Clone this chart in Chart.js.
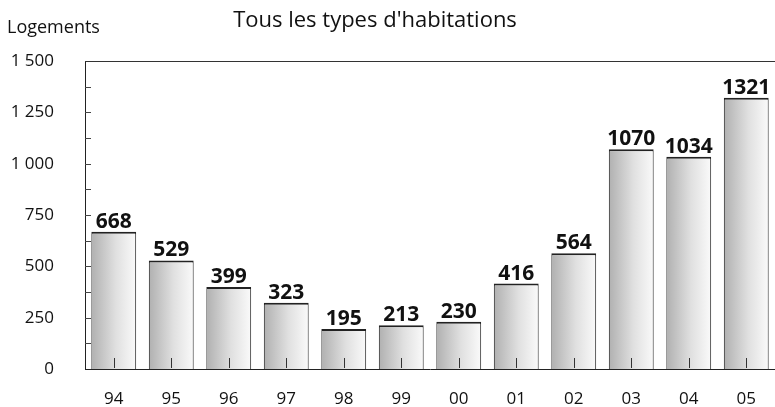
<!DOCTYPE html>
<html>
<head>
<meta charset="utf-8">
<script src="https://cdn.jsdelivr.net/npm/chart.js@4"></script>
<style>
  html, body { margin: 0; padding: 0; background: #fff; }
  #wrap { width: 775px; height: 407px; position: relative; }
</style>
</head>
<body>
<div id="wrap"><canvas id="chart"></canvas></div>
<script>
const years = ['94', '95', '96', '97', '98', '99', '00', '01', '02', '03', '04', '05'];
const logements = [668, 529, 399, 323, 195, 213, 230, 416, 564, 1070, 1034, 1321];
const yTicks = [0, 250, 500, 750, 1000, 1250, 1500];

const FONT = '"Open Sans", Lato, sans-serif';
const BAR_PCT = 0.78;

const fmt = (v) => (v >= 1000 ? Math.floor(v / 1000) + ' ' + String(v % 1000).padStart(3, '0') : String(v));

const barFill = (ctx) => {
  const chart = ctx.chart;
  const xs = chart.scales.x;
  if (!xs || !chart.chartArea) return '#ccc';
  const cx = xs.getPixelForValue(ctx.dataIndex);
  const w = (xs.width / years.length) * BAR_PCT;
  const g = chart.ctx.createLinearGradient(cx - w / 2, 0, cx + w / 2, 0);
  g.addColorStop(0, '#b0b0b0');
  g.addColorStop(0.55, '#e0e0e0');
  g.addColorStop(1, '#fafafa');
  return g;
};

const decor = {
  id: 'decor',
  afterDatasetsDraw(chart) {
    const { ctx, chartArea, scales } = chart;
    const xs = scales.x;
    const ys = scales.y;
    ctx.save();

    // top frame line
    ctx.strokeStyle = '#333';
    ctx.lineWidth = 1;
    ctx.beginPath();
    ctx.moveTo(chartArea.left, Math.round(ys.getPixelForValue(1500)) + 0.5);
    ctx.lineTo(chartArea.right, Math.round(ys.getPixelForValue(1500)) + 0.5);
    ctx.stroke();

    // inward y ticks every 125
    ctx.strokeStyle = '#444';
    for (let v = 125; v < 1500; v += 125) {
      const y = Math.round(ys.getPixelForValue(v)) + 0.5;
      ctx.beginPath();
      ctx.moveTo(chartArea.left, y);
      ctx.lineTo(chartArea.left + 6, y);
      ctx.stroke();
    }

    // x ticks drawn upward inside bars
    ctx.strokeStyle = '#333';
    years.forEach((_, i) => {
      const x = Math.round(xs.getPixelForValue(i)) + 0.5;
      ctx.beginPath();
      ctx.moveTo(x, chartArea.bottom - 1);
      ctx.lineTo(x, chartArea.bottom - 11);
      ctx.stroke();
    });

    // value labels
    const meta = chart.getDatasetMeta(0);
    ctx.fillStyle = '#111';
    ctx.font = 'bold 21px ' + FONT;
    ctx.textAlign = 'center';
    ctx.textBaseline = 'alphabetic';
    meta.data.forEach((bar, i) => {
      ctx.fillText(String(logements[i]), bar.x, bar.y - 4);
    });

    // titles
    ctx.font = '22px ' + FONT;
    ctx.textAlign = 'center';
    ctx.textBaseline = 'middle';
    ctx.fillText("Tous les types d'habitations", 375, 21);
    ctx.font = '18px ' + FONT;
    ctx.textAlign = 'left';
    ctx.fillText('Logements', 7, 28);
    ctx.restore();
  }
};

new Chart(document.getElementById('chart'), {
  type: 'bar',
  data: {
    labels: years,
    datasets: [{
      data: logements,
      backgroundColor: barFill,
      borderColor: '#222',
      borderWidth: { top: 2, left: 1, right: 1, bottom: 0 },
      borderSkipped: false,
      barPercentage: BAR_PCT,
      categoryPercentage: 1
    }]
  },
  options: {
    responsive: true,
    maintainAspectRatio: false,
    animation: false,
    layout: { padding: { top: 61, right: 0, left: 0, bottom: 0 } },
    plugins: {
      legend: { display: false },
      tooltip: { enabled: false },
      title: { display: false }
    },
    scales: {
      x: {
        grid: { display: false },
        border: { display: true, color: '#222', width: 1 },
        ticks: { color: '#111', font: { family: FONT, size: 17 }, padding: 12, maxRotation: 0 },
        afterFit: (s) => { s.height = 38; }
      },
      y: {
        min: 0,
        max: 1500,
        afterBuildTicks: (s) => { s.ticks = yTicks.map((v) => ({ value: v })); },
        grid: { display: false },
        border: { display: true, color: '#222', width: 1 },
        ticks: {
          color: '#111',
          font: { family: FONT, size: 17 },
          padding: 23,
          callback: (v) => fmt(v)
        },
        afterFit: (s) => { s.width = 85; }
      }
    }
  },
  plugins: [decor]
});
</script>
</body>
</html>
